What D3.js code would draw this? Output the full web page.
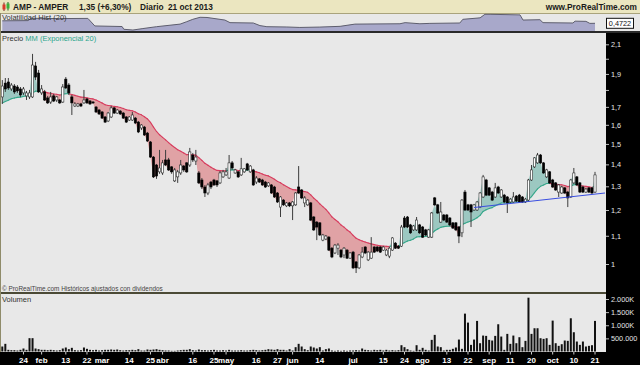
<!DOCTYPE html>
<html>
<head>
<meta charset="utf-8">
<script src="https://cdn.jsdelivr.net/npm/d3@7"></script>
<style>
body{margin:0;background:#e8e8e8;}
svg{display:block;font-family:"Liberation Sans",Arial,sans-serif;}
</style>
</head>
<body>
<script>
// AMP - AMPER, diario, 15 ene 2013 .. 21 oct 2013 (one entry per session)
var openP = [
1.758,1.842,1.849,1.806,1.824,1.818,1.806,1.782,1.764,1.758,
1.758,1.952,1.906,1.782,1.788,1.752,1.728,1.764,1.740,1.740,
1.728,1.867,1.830,1.758,1.705,1.705,1.717,1.723,1.746,1.734,
1.728,1.699,1.682,1.671,1.643,1.621,1.643,1.694,1.665,1.676,
1.665,1.643,1.626,1.626,1.637,1.615,1.583,1.588,1.556,1.510,
1.435,1.397,1.365,1.360,1.421,1.421,1.388,1.324,1.342,1.360,
1.392,1.407,1.397,1.445,1.416,1.360,1.328,1.297,1.271,1.319,
1.328,1.324,1.315,1.342,1.351,1.337,1.407,1.360,1.365,1.351,
1.365,1.402,1.365,1.374,1.319,1.333,1.328,1.319,1.302,1.306,
1.297,1.271,1.212,1.241,1.217,1.229,1.217,1.221,1.297,1.284,
1.229,1.221,1.229,1.172,1.152,1.149,1.084,1.088,1.095,1.055,
1.038,1.055,1.048,1.031,1.048,1.020,1.041,1.007,0.987,1.024,
1.059,1.014,1.020,1.059,1.059,1.059,1.048,1.031,1.027,1.048,
1.073,1.062,1.062,1.168,1.172,1.141,1.122,1.122,1.141,1.133,
1.122,1.095,1.095,1.250,1.221,1.152,1.180,1.180,1.168,1.149,
1.149,1.133,1.111,1.275,1.221,1.221,1.200,1.200,1.212,1.254,
1.328,1.293,1.275,1.254,1.297,1.254,1.262,1.254,1.233,1.233,
1.258,1.262,1.254,1.233,1.241,1.328,1.388,1.407,1.445,1.407,
1.342,1.365,1.328,1.315,1.275,1.271,1.293,1.275,1.254,1.315,
1.342,1.315,1.297,1.275,1.293,1.293,1.275
];
var highP = [
1.861,1.874,1.874,1.842,1.836,1.830,1.818,1.818,1.794,1.800,
2.033,1.979,1.926,1.830,1.800,1.764,1.788,1.776,1.764,1.746,
1.836,1.880,1.842,1.770,1.728,1.723,1.723,1.800,1.752,1.740,
1.734,1.705,1.688,1.676,1.648,1.671,1.705,1.699,1.688,1.682,
1.671,1.648,1.648,1.671,1.643,1.621,1.604,1.594,1.562,1.515,
1.440,1.402,1.470,1.421,1.470,1.431,1.392,1.383,1.374,1.421,
1.397,1.411,1.480,1.455,1.470,1.369,1.337,1.306,1.315,1.324,
1.333,1.328,1.369,1.374,1.383,1.445,1.416,1.379,1.369,1.431,
1.383,1.407,1.397,1.379,1.346,1.337,1.333,1.324,1.319,1.310,
1.302,1.275,1.258,1.245,1.233,1.233,1.237,1.275,1.392,1.288,
1.258,1.245,1.233,1.176,1.156,1.152,1.107,1.103,1.099,1.059,
1.070,1.073,1.052,1.059,1.052,1.041,1.045,1.010,1.034,1.059,
1.062,1.045,1.095,1.062,1.062,1.062,1.062,1.052,1.059,1.095,
1.077,1.066,1.141,1.176,1.176,1.145,1.141,1.172,1.145,1.137,
1.126,1.126,1.192,1.254,1.225,1.233,1.184,1.184,1.172,1.152,
1.152,1.137,1.245,1.284,1.225,1.225,1.225,1.237,1.275,1.351,
1.333,1.297,1.280,1.315,1.302,1.288,1.267,1.258,1.250,1.275,
1.262,1.267,1.258,1.250,1.333,1.397,1.435,1.455,1.450,1.411,
1.379,1.369,1.333,1.319,1.310,1.302,1.297,1.280,1.333,1.383,
1.346,1.319,1.302,1.293,1.297,1.297,1.365
];
var lowP = [
1.717,1.788,1.800,1.794,1.776,1.782,1.758,1.770,1.740,1.746,
1.752,1.861,1.782,1.770,1.734,1.717,1.717,1.728,1.728,1.717,
1.723,1.806,1.770,1.654,1.699,1.699,1.699,1.717,1.717,1.711,
1.717,1.665,1.654,1.632,1.610,1.615,1.637,1.660,1.660,1.654,
1.632,1.610,1.621,1.621,1.604,1.556,1.572,1.541,1.510,1.431,
1.337,1.333,1.356,1.351,1.392,1.369,1.356,1.319,1.315,1.351,
1.365,1.360,1.388,1.411,1.397,1.310,1.288,1.254,1.262,1.288,
1.302,1.297,1.310,1.337,1.346,1.333,1.374,1.356,1.337,1.346,
1.360,1.369,1.360,1.302,1.310,1.315,1.302,1.293,1.297,1.267,
1.250,1.229,1.172,1.217,1.212,1.212,1.160,1.217,1.267,1.245,
1.212,1.217,1.156,1.118,1.084,1.099,1.080,1.084,1.045,1.020,
1.034,1.031,1.020,1.020,1.017,1.017,0.983,0.970,0.983,1.020,
1.034,1.010,1.017,1.038,1.041,1.038,1.045,1.027,1.020,1.045,
1.052,1.052,1.059,1.129,1.129,1.107,1.118,1.118,1.107,1.092,
1.099,1.092,1.092,1.217,1.184,1.149,1.156,1.149,1.137,1.126,
1.118,1.073,1.095,1.196,1.196,1.133,1.196,1.196,1.208,1.250,
1.258,1.258,1.237,1.250,1.267,1.250,1.229,1.188,1.229,1.229,
1.233,1.229,1.229,1.229,1.237,1.324,1.383,1.402,1.402,1.356,
1.337,1.310,1.293,1.280,1.254,1.267,1.267,1.212,1.250,1.310,
1.302,1.271,1.271,1.271,1.271,1.267,1.271
];
var closeP = [
1.824,1.806,1.812,1.830,1.788,1.794,1.770,1.806,1.782,1.782,
1.958,1.880,1.788,1.806,1.740,1.723,1.758,1.734,1.758,1.723,
1.818,1.812,1.782,1.723,1.717,1.717,1.705,1.740,1.723,1.717,
1.723,1.671,1.660,1.637,1.615,1.665,1.694,1.665,1.682,1.660,
1.637,1.615,1.643,1.654,1.610,1.562,1.599,1.546,1.515,1.435,
1.342,1.346,1.383,1.407,1.397,1.374,1.365,1.374,1.365,1.397,
1.374,1.365,1.460,1.421,1.435,1.315,1.297,1.271,1.306,1.297,
1.306,1.306,1.360,1.365,1.365,1.407,1.383,1.374,1.342,1.379,
1.379,1.374,1.392,1.306,1.337,1.319,1.306,1.297,1.315,1.271,
1.254,1.233,1.254,1.221,1.229,1.217,1.233,1.271,1.271,1.250,
1.250,1.241,1.160,1.122,1.133,1.103,1.103,1.099,1.048,1.024,
1.066,1.066,1.024,1.055,1.020,1.038,0.987,0.987,1.031,1.041,
1.038,1.041,1.041,1.041,1.045,1.041,1.059,1.048,1.055,1.092,
1.055,1.055,1.133,1.133,1.133,1.111,1.137,1.160,1.111,1.095,
1.103,1.122,1.188,1.221,1.188,1.192,1.160,1.152,1.141,1.129,
1.122,1.099,1.241,1.200,1.200,1.192,1.221,1.233,1.271,1.342,
1.262,1.262,1.241,1.293,1.271,1.284,1.233,1.229,1.245,1.254,
1.237,1.233,1.233,1.245,1.328,1.374,1.431,1.445,1.407,1.360,
1.374,1.315,1.297,1.284,1.306,1.297,1.271,1.250,1.328,1.360,
1.306,1.275,1.275,1.288,1.275,1.271,1.351
];
// volumen en miles de acciones
var volumeK = [
190,292,64,51,51,38,64,114,64,508,
508,114,89,64,64,51,64,51,38,51,
114,152,89,140,51,38,51,152,102,64,
51,64,38,51,64,64,76,64,76,51,
38,51,51,64,51,89,38,38,76,64,
76,89,64,51,38,38,25,25,38,51,
64,64,89,51,38,76,51,51,38,51,
64,38,38,51,38,64,38,38,38,51,
38,38,51,64,51,38,51,64,89,76,
64,89,64,64,38,89,38,165,292,190,
89,51,190,152,114,165,38,89,114,38,
25,38,25,38,25,38,38,51,38,114,
64,51,38,64,51,64,38,64,38,51,
38,51,240,165,89,38,25,240,64,140,
64,38,443,633,190,165,38,64,64,102,
152,455,102,1443,1101,253,455,1165,316,607,
595,443,418,595,1038,570,63,671,291,607,
316,544,165,405,2050,671,886,886,506,481,
506,253,1177,316,215,278,418,405,1266,734,
380,253,380,190,215,240,1165
];
// Volatilidad Hist (20): puntos (indice de sesion, valor)
var hvIdx = [0,8.5,9.5,19,28.3,30.6,39.6,40.2,43.2,46.5,51,58.8,61,63,65.4,67.7,73.6,75.3,83,85.2,87.5,94.1,98.4,105,111.7,116.6,131.5,133.2,138.1,141.4,151.3,152.3,158,159.6,161.3,171.2,172.2,177.8,178.8,188.7,189.4,193,194.3,196];
var hvVal = [0.54,0.545,0.608,0.60,0.605,0.40,0.385,0.31,0.29,0.33,0.38,0.45,0.516,0.58,0.635,0.63,0.56,0.49,0.48,0.41,0.38,0.372,0.36,0.37,0.39,0.45,0.46,0.49,0.46,0.47,0.48,0.58,0.62,0.716,0.716,0.70,0.56,0.57,0.49,0.48,0.53,0.525,0.47,0.4722];
var hvLast = "0,4722";
// linea de tendencia dibujada
var trendIdx = [156, 199.3];
var trendVal = [1.210, 1.271];
// MM exponencial 20: valor al inicio del grafico
var emaStart = 1.723;
var emaPeriod = 20;
// eje temporal
var tickIdx = [7,13,21,28,33,42,49,53,63,70,74,84,91,96,105,116,126,133,139,147,154,161,168,175,182,189,196];
var tickLabels = ["24","feb","13","22","mar","14","25","abr","16","25","may","16","27","jun","14","jul","15","24","ago","13","22","sep","11","20","oct","10","21"];
// eje de precios
var priceTicks = [2.1,2.0,1.9,1.8,1.7,1.6,1.5,1.4,1.3,1.2,1.1,1];
var priceTickLabels = ["2,1","","1,9","","1,7","1,6","1,5","1,4","1,3","1,2","1,1","1"];
var volTicks = [2000,1500,1000,500];
var volTickLabels = ["2.000K","1.500K","1.000K","500.000"];

var N = closeP.length;
var W = 640, H = 365;
var plotR = 606;
var mainTop = 33, mainBot = 292;

var alpha = 2/(emaPeriod+1);
var ema = [];
closeP.forEach(function(c,i){ ema.push(i===0 ? emaStart : ema[i-1] + alpha*(c - ema[i-1])); });

var x = d3.scaleLinear().domain([0, N-1]).range([2.3, 595]);
var y = d3.scaleLog().domain([1, 2.1]).range([264, 44.3]);
var yVol = d3.scaleLinear().domain([0, 2000]).range([351.5, 299]);
var yHv = d3.scaleLinear().domain([0.25, 0.75]).range([31.5, 13.05]);

var svg = d3.select("body").append("svg").attr("width", W).attr("height", H);
var defs = svg.append("defs");

svg.append("rect").attr("width", W).attr("height", H).attr("fill", "#e8e8e8");

// barra de titulo
svg.append("rect").attr("width", W).attr("height", 13).attr("fill", "#ebe6c0");
svg.append("line").attr("x1",0).attr("x2",W).attr("y1",13.5).attr("y2",13.5).attr("stroke","#a9a37c");
var icon = svg.append("g");
icon.append("line").attr("x1",4).attr("x2",4).attr("y1",2.5).attr("y2",11).attr("stroke","#7a2020");
icon.append("rect").attr("x",2.5).attr("y",4.5).attr("width",3).attr("height",5).attr("fill","#d83a2a");
icon.append("line").attr("x1",8).attr("x2",8).attr("y1",2).attr("y2",10.5).attr("stroke","#206020");
icon.append("rect").attr("x",6.5).attr("y",3.5).attr("width",3).attr("height",5).attr("fill","#3ab03a");
var title = svg.append("text").attr("y", 10).attr("font-size", 8.3).attr("font-weight", "bold").attr("fill", "#1a1a1a");
title.append("tspan").attr("x", 13).text("AMP - AMPER");
title.append("tspan").attr("x", 79).text("1,35 (+6,30%)");
title.append("tspan").attr("x", 140).text("Diario");
title.append("tspan").attr("x", 168).text("21 oct 2013");
svg.append("text").attr("x", 637).attr("y", 10).attr("text-anchor", "end").attr("font-size", 8.3)
   .attr("font-weight", "bold").attr("fill", "#1a1a1a").text("www.ProRealTime.com");

// panel volatilidad
var hv = hvIdx.map(function(d,i){ return [d, hvVal[i]]; });
svg.append("path").datum(hv)
   .attr("d", d3.area().x(function(d){ return x(d[0]); }).y0(31.5).y1(function(d){ return yHv(d[1]); }))
   .attr("fill", "#a8a8ca");
svg.append("path").datum(hv)
   .attr("d", d3.line().x(function(d){ return x(d[0]); }).y(function(d){ return yHv(d[1]); }))
   .attr("fill", "none").attr("stroke", "#5e5e6e").attr("stroke-width", 1);
svg.append("text").attr("x", 2).attr("y", 20).attr("font-size", 7.5).attr("fill", "#333").text("Volatilidad Hist (20)");
var hy = yHv(hvVal[hvVal.length-1]);
svg.append("rect").attr("x", 606.5).attr("y", hy-5).attr("width", 27).attr("height", 10)
   .attr("fill", "#fff").attr("stroke", "#111").attr("stroke-width", 1);
svg.append("text").attr("x", 620).attr("y", hy+2.8).attr("text-anchor", "middle").attr("font-size", 7.3)
   .attr("fill", "#111").text(hvLast);
svg.append("rect").attr("x", 0).attr("y", 31).attr("width", W).attr("height", 2).attr("fill", "#2a2a2a");

// panel de precio
defs.append("clipPath").attr("id", "mainClip").append("rect")
   .attr("x", 0).attr("y", mainTop).attr("width", plotR).attr("height", mainBot - mainTop);
var rows = d3.range(N).map(function(i){ return {i:i, c:closeP[i], e:ema[i]}; });
defs.append("clipPath").attr("id", "aboveEma").append("path").datum(rows)
   .attr("d", d3.area().x(function(d){ return x(d.i); }).y0(mainTop).y1(function(d){ return y(d.e); }));
defs.append("clipPath").attr("id", "belowEma").append("path").datum(rows)
   .attr("d", d3.area().x(function(d){ return x(d.i); }).y0(mainBot).y1(function(d){ return y(d.e); }));

var main = svg.append("g").attr("clip-path", "url(#mainClip)");
var band = d3.area().x(function(d){ return x(d.i); }).y0(function(d){ return y(d.c); }).y1(function(d){ return y(d.e); });
main.append("g").attr("clip-path", "url(#aboveEma)").append("path").datum(rows).attr("d", band).attr("fill", "#9cc8c1");
main.append("g").attr("clip-path", "url(#belowEma)").append("path").datum(rows).attr("d", band).attr("fill", "#e0a2a5");

// MM coloreada segun precio por encima / por debajo
var segs = [];
for (var i = 0; i < N-1; i++) {
  var x0 = x(i), x1 = x(i+1);
  var e0 = y(ema[i]), e1 = y(ema[i+1]);
  var d0 = e0 - y(closeP[i]), d1 = e1 - y(closeP[i+1]);
  if ((d0 >= 0) === (d1 >= 0)) {
    segs.push({x0:x0, y0:e0, x1:x1, y1:e1, up:(d0 + d1) >= 0});
  } else {
    var t = d0 / (d0 - d1);
    var xm = x0 + t*(x1 - x0), ym = e0 + t*(e1 - e0);
    segs.push({x0:x0, y0:e0, x1:xm, y1:ym, up:d0 >= 0});
    segs.push({x0:xm, y0:ym, x1:x1, y1:e1, up:d1 >= 0});
  }
}
main.append("g").selectAll("line").data(segs).enter().append("line")
   .attr("x1", function(d){ return d.x0; }).attr("y1", function(d){ return d.y0; })
   .attr("x2", function(d){ return d.x1; }).attr("y2", function(d){ return d.y1; })
   .attr("stroke", function(d){ return d.up ? "#35a88b" : "#d83c5e"; })
   .attr("stroke-width", 1.1).attr("stroke-linecap", "round");

// velas
var candle = main.append("g").selectAll("g").data(d3.range(N)).enter().append("g");
candle.append("line")
   .attr("x1", function(i){ return x(i); }).attr("x2", function(i){ return x(i); })
   .attr("y1", function(i){ return y(highP[i]); }).attr("y2", function(i){ return y(lowP[i]); })
   .attr("stroke", "#3c3c3c").attr("stroke-width", 1);
candle.append("rect")
   .attr("x", function(i){ return x(i) - 1.1; })
   .attr("width", 2.2)
   .attr("y", function(i){ return y(Math.max(openP[i], closeP[i])); })
   .attr("height", function(i){ return Math.max(0.8, Math.abs(y(openP[i]) - y(closeP[i]))); })
   .attr("fill", function(i){ return closeP[i] >= openP[i] ? "#ffffff" : "#000000"; })
   .attr("stroke", function(i){ return closeP[i] >= openP[i] ? "#2a2a2a" : "#000"; })
   .attr("stroke-width", 0.6);

// linea de tendencia
main.append("line")
   .attr("x1", x(trendIdx[0])).attr("y1", y(trendVal[0]))
   .attr("x2", x(trendIdx[1])).attr("y2", y(trendVal[1]))
   .attr("stroke", "#3a4ee0").attr("stroke-width", 1.1);

var lab = svg.append("text").attr("x", 2).attr("y", 40.5).attr("font-size", 7.5);
lab.append("tspan").attr("fill", "#333").text("Precio ");
lab.append("tspan").attr("fill", "#2aa58c").text("MM (Exponencial 20)");
svg.append("text").attr("x", 2).attr("y", 290.5).attr("font-size", 6.4).attr("fill", "#444")
   .text("\u00a9 ProRealTime.com Hist\u00f3ricos ajustados con dividendos");
svg.append("rect").attr("x", 0).attr("y", 292).attr("width", W).attr("height", 2).attr("fill", "#4b4a36");

// panel de volumen
svg.append("text").attr("x", 2).attr("y", 302).attr("font-size", 7.5).attr("fill", "#333").text("Volumen");
svg.append("g").selectAll("rect").data(volumeK).enter().append("rect")
   .attr("x", function(d,i){ return x(i) - 1; }).attr("width", 2)
   .attr("y", function(d){ return yVol(d); })
   .attr("height", function(d){ return yVol(0) - yVol(d); })
   .attr("fill", "#111");

// columna de ejes a la derecha
svg.append("rect").attr("x", plotR).attr("y", 33).attr("width", W - plotR).attr("height", 352 - 33).attr("fill", "#000");
var ax = svg.append("g").attr("transform", "translate(" + plotR + ",0)")
   .call(d3.axisRight(y).tickValues(priceTicks).tickSize(3).tickPadding(2)
        .tickFormat(function(d,i){ return priceTickLabels[i]; }));
var vax = svg.append("g").attr("transform", "translate(" + plotR + ",0)")
   .call(d3.axisRight(yVol).tickValues(volTicks).tickSize(3).tickPadding(2)
        .tickFormat(function(d,i){ return volTickLabels[i]; }));
[ax, vax].forEach(function(g){
  g.select(".domain").remove();
  g.selectAll(".tick line").attr("stroke", "#bdbdbd");
  g.selectAll(".tick text").attr("fill", "#e6e6e6").attr("font-size", 7.3)
   .attr("font-family", "Liberation Sans, Arial, sans-serif");
});

// eje temporal
svg.append("rect").attr("x", 0).attr("y", 352).attr("width", W).attr("height", 13).attr("fill", "#000");
svg.append("g").selectAll("line").data(tickIdx).enter().append("line")
   .attr("x1", function(d){ return x(d); }).attr("x2", function(d){ return x(d); })
   .attr("y1", 352).attr("y2", 354.5).attr("stroke", "#cfcfcf");
svg.append("g").selectAll("text").data(tickIdx).enter().append("text")
   .attr("x", function(d){ return x(d); }).attr("y", 362.5)
   .attr("text-anchor", "middle").attr("font-size", 8).attr("font-weight", "bold").attr("fill", "#fff")
   .text(function(d,i){ return tickLabels[i]; });

svg.append("line").attr("x1", 0.5).attr("x2", 0.5).attr("y1", 13).attr("y2", 352).attr("stroke", "#8f8b6a");
</script>
</body>
</html>
